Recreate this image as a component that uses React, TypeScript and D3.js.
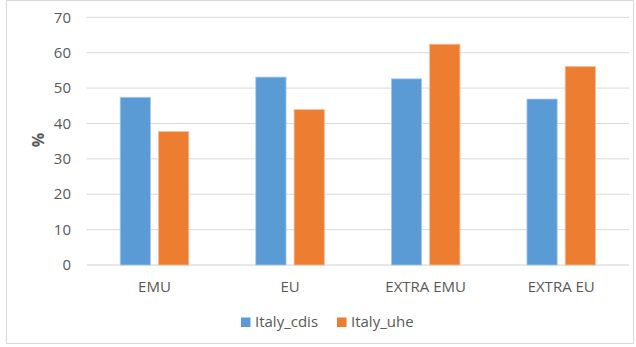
import React from "react";
import * as d3 from "d3";

const categories = ["EMU", "EU", "EXTRA EMU", "EXTRA EU"];
const seriesNames = ["Italy_cdis", "Italy_uhe"];
const cdisValues = [47.4, 53.1, 52.6, 46.9];
const uheValues = [37.7, 43.9, 62.4, 56.1];
const yTicks = [0, 10, 20, 30, 40, 50, 60, 70];
const colors = ["#5B9BD5", "#ED7D31"];

const W = 636;
const H = 347;
const plot = { left: 86.7, right: 629, top: 17.3, bottom: 265 };
const font = "'Open Sans', sans-serif";
const textColor = "#595959";

export default function App() {
  const x = d3
    .scaleBand<string>()
    .domain(categories)
    .range([plot.left, plot.right])
    .paddingInner(0)
    .paddingOuter(0);
  const inner = d3
    .scaleBand<string>()
    .domain(seriesNames)
    .range([0, x.bandwidth()])
    .paddingInner(0.21)
    .paddingOuter(0.875);
  const y = d3.scaleLinear().domain([0, 70]).range([plot.bottom, plot.top]);
  const series = [cdisValues, uheValues];

  return (
    <svg
      width={W}
      height={H}
      style={{ position: "absolute", left: 0, top: 0, background: "#fff" }}
    >
      <rect x={6.5} y={0.5} width={627} height={343} fill="#fff" stroke="#d9d9d9" />
      {yTicks.map((t) => (
        <g key={t}>
          <line
            x1={plot.left}
            x2={plot.right}
            y1={y(t)}
            y2={y(t)}
            stroke={t === 0 ? "#d0d0d0" : "#d9d9d9"}
            strokeWidth={1}
          />
          <text
            x={71}
            y={y(t)}
            dy="0.35em"
            textAnchor="end"
            fontFamily={font}
            fontSize={15}
            fill={textColor}
          >
            {t}
          </text>
        </g>
      ))}
      <text
        transform={`translate(${38},${140}) rotate(-90)`}
        textAnchor="middle"
        dy="0.35em"
        fontFamily={font}
        fontSize={16}
        fontWeight="bold"
        fill={textColor}
      >
        %
      </text>
      {series.map((vals, si) =>
        vals.map((v, ci) => (
          <rect
            key={`${si}-${ci}`}
            x={(x(categories[ci]) ?? 0) + (inner(seriesNames[si]) ?? 0)}
            y={y(v)}
            width={inner.bandwidth()}
            height={plot.bottom - y(v)}
            fill={colors[si]}
            stroke={si === 0 ? "#a9c9ea" : "#f6bd98"}
            strokeWidth={0.8}
          />
        ))
      )}
      {categories.map((c) => (
        <text
          key={c}
          x={(x(c) ?? 0) + x.bandwidth() / 2}
          y={287}
          dy="0.35em"
          textAnchor="middle"
          fontFamily={font}
          fontSize={15}
          fill={textColor}
        >
          {c}
        </text>
      ))}
      {seriesNames.map((s, i) => {
        const lx = i === 0 ? 241 : 337;
        return (
          <g key={s}>
            <rect x={lx} y={317.5} width={9.5} height={9.5} fill={colors[i]} />
            <text
              x={lx + 14}
              y={322}
              dy="0.35em"
              fontFamily={font}
              fontSize={15}
              fill={textColor}
            >
              {s}
            </text>
          </g>
        );
      })}
    </svg>
  );
}
